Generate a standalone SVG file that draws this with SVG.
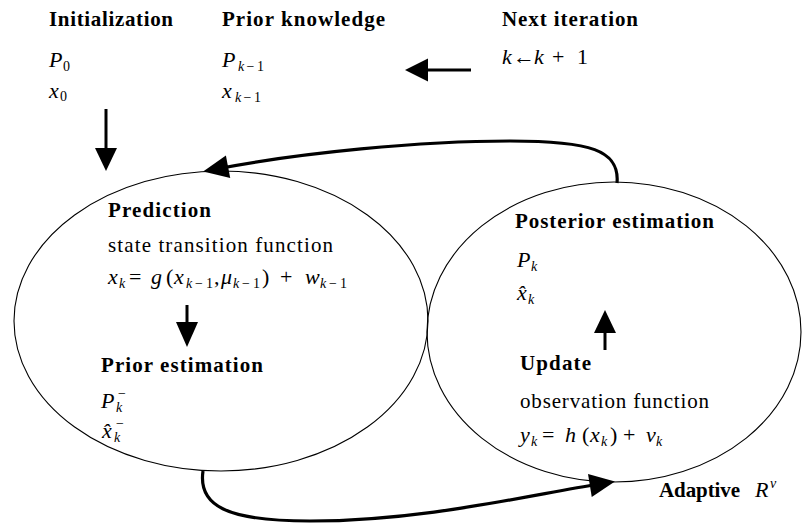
<svg xmlns="http://www.w3.org/2000/svg" width="802" height="524" viewBox="0 0 802 524" font-family="'Liberation Serif', 'Times New Roman', Times, serif">
<style>
  text { font-family: 'Liberation Serif', 'Times New Roman', Times, serif; fill: #000; }
  .b { font-weight: bold; font-size: 21px; }
  .r { font-size: 21px; }
  .m { font-style: italic; font-size: 22px; }
  .n { font-style: normal; }
  .s { font-size: 14px; }
  .node { fill: none; stroke: #000; stroke-width: 1.1; }
  .curve { fill: none; stroke: #000; stroke-width: 3.2; }
  .shaft { stroke: #000; stroke-width: 3; }
  .head { fill: #000; }
</style>
<defs>
  <marker id="ah" markerUnits="userSpaceOnUse" markerWidth="30" markerHeight="30" viewBox="-2 -12 26 24" refX="8" refY="0" orient="auto">
    <path d="M0,-10 L22,0 L0,10 z" fill="#000"/>
  </marker>
</defs>

<g id="initialization">
  <text class="b" x="49" y="26" textLength="124" lengthAdjust="spacing">Initialization</text>
  <text class="m" x="49" y="67">P<tspan class="s n" x="63" y="71">0</tspan></text>
  <text class="m" x="49" y="98">x<tspan class="s n" x="60" y="101">0</tspan></text>
</g>

<g id="prior-knowledge">
  <text class="b" x="222" y="26" textLength="163" lengthAdjust="spacing">Prior knowledge</text>
  <text class="m" x="222" y="67">P<tspan class="s" x="238" y="71">k</tspan><tspan class="s n" x="246.5" y="71">−</tspan><tspan class="s n" x="257" y="71">1</tspan></text>
  <text class="m" x="222" y="98">x<tspan class="s" x="235" y="102">k</tspan><tspan class="s n" x="243.5" y="102">−</tspan><tspan class="s n" x="254" y="102">1</tspan></text>
</g>

<g id="next-iteration">
  <text class="b" x="502" y="26" textLength="136" lengthAdjust="spacing">Next iteration</text>
  <text class="m" x="502" y="64">k<tspan class="n" x="513">←</tspan><tspan x="534">k</tspan><tspan class="n" x="552">+</tspan><tspan class="n" x="577">1</tspan></text>
</g>

<g id="prediction">
  <ellipse class="node" cx="221" cy="321" rx="207" ry="150"/>
  <text class="b" x="108" y="217" textLength="103" lengthAdjust="spacing">Prediction</text>
  <text class="r" x="108" y="252" textLength="225" lengthAdjust="spacing">state transition function</text>
  <text class="m" x="108" y="284">x<tspan class="s" x="119" y="288">k</tspan><tspan class="n" x="129" y="284">=</tspan><tspan x="151" y="284">g</tspan><tspan class="n" x="166" y="284">(</tspan><tspan x="174" y="284">x</tspan><tspan class="s" x="186" y="288">k</tspan><tspan class="s n" x="195" y="288">−</tspan><tspan class="s n" x="206" y="288">1</tspan><tspan class="n" x="214" y="284">,</tspan><tspan x="221" y="284">μ</tspan><tspan class="s" x="233" y="288">k</tspan><tspan class="s n" x="242" y="288">−</tspan><tspan class="s n" x="253" y="288">1</tspan><tspan class="n" x="262" y="284">)</tspan><tspan class="n" x="280" y="284">+</tspan><tspan x="305" y="284">w</tspan><tspan class="s" x="320" y="288">k</tspan><tspan class="s n" x="329" y="288">−</tspan><tspan class="s n" x="340" y="288">1</tspan></text>
  <text class="b" x="101" y="372" textLength="162" lengthAdjust="spacing">Prior estimation</text>
  <text class="m" x="101" y="408">P<tspan class="s" x="116" y="412">k</tspan><tspan class="s n" x="118" y="398">−</tspan></text>
  <text class="m" x="102" y="438">x̂<tspan class="s" x="114" y="442">k</tspan><tspan class="s n" x="116" y="428">−</tspan></text>
</g>

<g id="posterior">
  <ellipse class="node" cx="614" cy="332" rx="187" ry="150"/>
  <text class="b" x="515" y="228" textLength="199" lengthAdjust="spacing">Posterior estimation</text>
  <text class="m" x="517" y="267">P<tspan class="s" x="531" y="271">k</tspan></text>
  <text class="m" x="517" y="300">x̂<tspan class="s" x="528" y="304">k</tspan></text>
  <text class="b" x="520" y="370" textLength="71" lengthAdjust="spacing">Update</text>
  <text class="r" x="520" y="408" textLength="189" lengthAdjust="spacing">observation function</text>
  <text class="m" x="520" y="442">y<tspan class="s" x="531" y="446">k</tspan><tspan class="n" x="542" y="442">=</tspan><tspan x="565" y="442">h</tspan><tspan class="n" x="582" y="442">(</tspan><tspan x="590" y="442">x</tspan><tspan class="s" x="601" y="446">k</tspan><tspan class="n" x="610" y="442">)</tspan><tspan class="n" x="623" y="442">+</tspan><tspan x="646" y="442">v</tspan><tspan class="s" x="656" y="446">k</tspan></text>
</g>

<g id="adaptive">
  <text class="b" x="659" y="497" textLength="81" lengthAdjust="spacing">Adaptive</text>
  <text class="m" x="755" y="497">R<tspan class="s" x="770" y="488">v</tspan></text>
</g>

<g id="connectors">
  <line class="shaft" x1="106" y1="109" x2="106" y2="150"/>
  <polygon class="head" points="95,148 117,148 106,171"/>
  <line class="shaft" x1="471" y1="70" x2="426" y2="70"/>
  <polygon class="head" points="428,58.5 428,81.5 405,70"/>
  <line class="shaft" x1="187" y1="305" x2="187" y2="324"/>
  <polygon class="head" points="176,322 198,322 187,347"/>
  <line class="shaft" x1="605" y1="350" x2="605" y2="331"/>
  <polygon class="head" points="594,333 616,333 605,310"/>
  <path class="curve" d="M617,183 C620,150 590,141 510,141 C420,141 300,153 219,168.5" marker-end="url(#ah)"/>
  <path class="curve" d="M203,471 C198,505 225,521 310,521 C420,521 520,497 599,484" marker-end="url(#ah)"/>
</g>
</svg>
